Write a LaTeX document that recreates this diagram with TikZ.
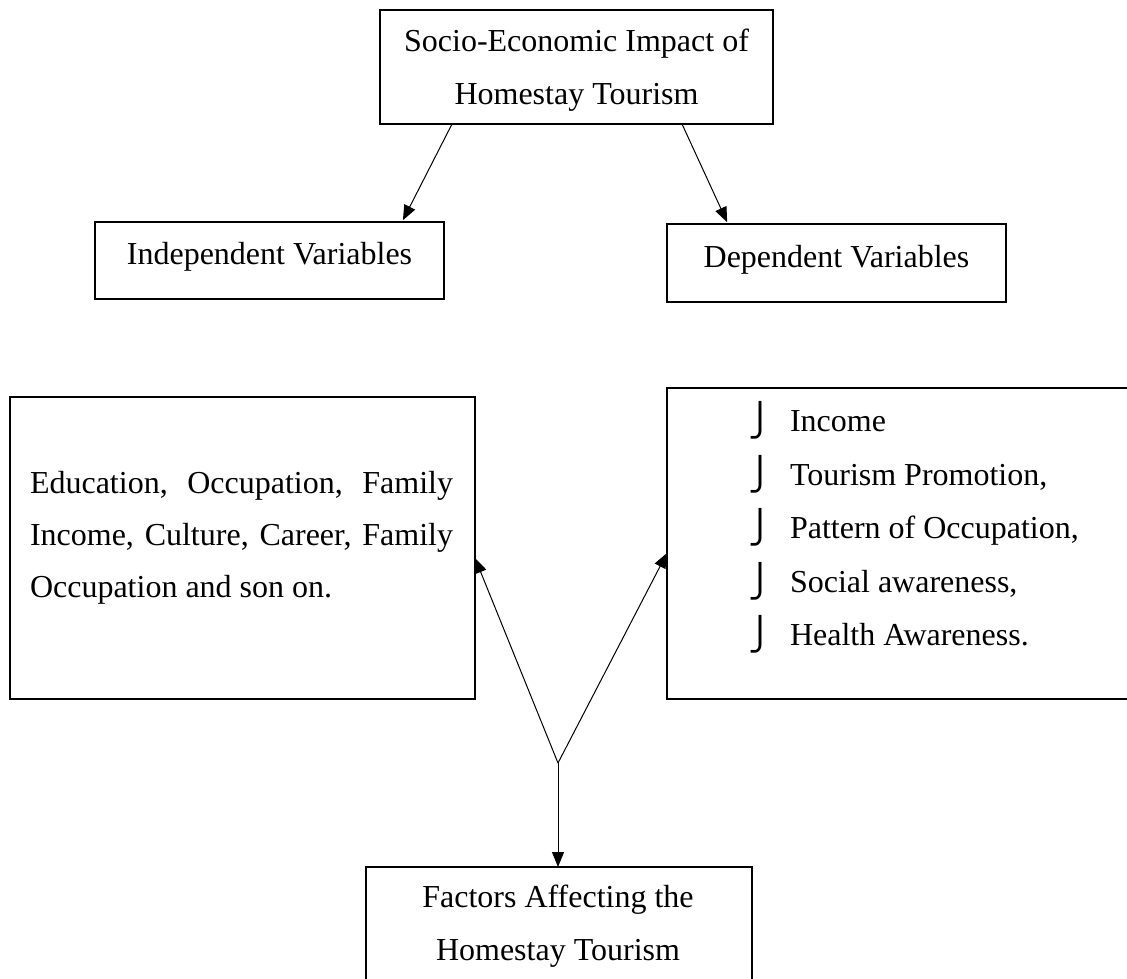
\documentclass[tikz,border=0pt]{standalone}
\usepackage{fontspec}
\setmainfont{Liberation Serif}
\newfontfamily\bulletfont{DejaVu Sans}
\usetikzlibrary{arrows.meta}
\tikzset{
  box/.style={
    rectangle,
    minimum size=0mm,
    inner sep=0mm,
    outer sep=0mm,
    line width=1.8bp,
    align=center,
  draw
  },
  words/.style={
    inner sep=0mm,
    outer sep=0mm
  },
  link/.style={
    -{Triangle[length=15bp,width=12bp]},
    line width=1bp
  }
}
\newcommand{\hookmark}{\makebox[42bp][l]{\raisebox{0bp}[0bp][0bp]{\bulletfont ⎭}}}
\newcommand{\nohyph}{\hyphenpenalty=10000\relax\tolerance=10000\relax}

\begin{document}
\begin{tikzpicture}[x=1bp,y=-1bp,font=\fontsize{32bp}{53bp}\selectfont]
    \useasboundingbox (0,0) rectangle (1127,979);
    \node[box,minimum width=393bp,minimum height=114bp,text depth=0bp] (impact) at (576.5,67) {Socio-Economic Impact of\\Homestay Tourism};
    \node[box,minimum width=349bp,minimum height=77bp,text depth=14bp] (indep) at (269.5,260.5) {Independent Variables};
    \node[box,minimum width=339bp,minimum height=78bp,text depth=14bp] (dep) at (836.5,263) {Dependent Variables};
    \node[box,minimum width=465bp,minimum height=302bp] (indeplist) at (242.5,548) {};
    \node[box,minimum width=480bp,minimum height=311bp] (deplist) at (907,543.5) {};
    \node[box,minimum width=386bp,minimum height=143bp] (factors) at (559,938.5) {};
    \node[words,anchor=north west,text width=423bp,align=justify,font=\fontsize{32bp}{52bp}\selectfont] (indeptext) at (30,471)
      {\nohyph Education, Occupation, Family Income, Culture, Career, Family Occupation and son on.};
    \node[words,anchor=north west,align=left,font=\fontsize{32bp}{53.5bp}\selectfont] (deptext) at (748,411)
      {\hookmark Income\\\hookmark Tourism Promotion,\\\hookmark Pattern of Occupation,\\\hookmark Social awareness,\\\hookmark Health Awareness.};
    \node[words,anchor=north,align=center] (factorstext) at (558,885) {Factors Affecting the\\Homestay Tourism};
    \coordinate (fork) at (558,763);
    \draw[link,shorten >=2bp] ([xshift=72bp]impact.south west) -- ([xshift=307bp]indep.north west);
    \draw[link,shorten >=2bp] ([xshift=302bp]impact.south west) -- ([xshift=61bp]dep.north west);
    \draw[link] (fork) -- ([yshift=-10bp]indeplist.east);
    \draw[link] (fork) -- ([yshift=-9.5bp]deplist.west);
    \draw[link] (fork) -- (fork |- factors.north);
\end{tikzpicture}
\end{document}
